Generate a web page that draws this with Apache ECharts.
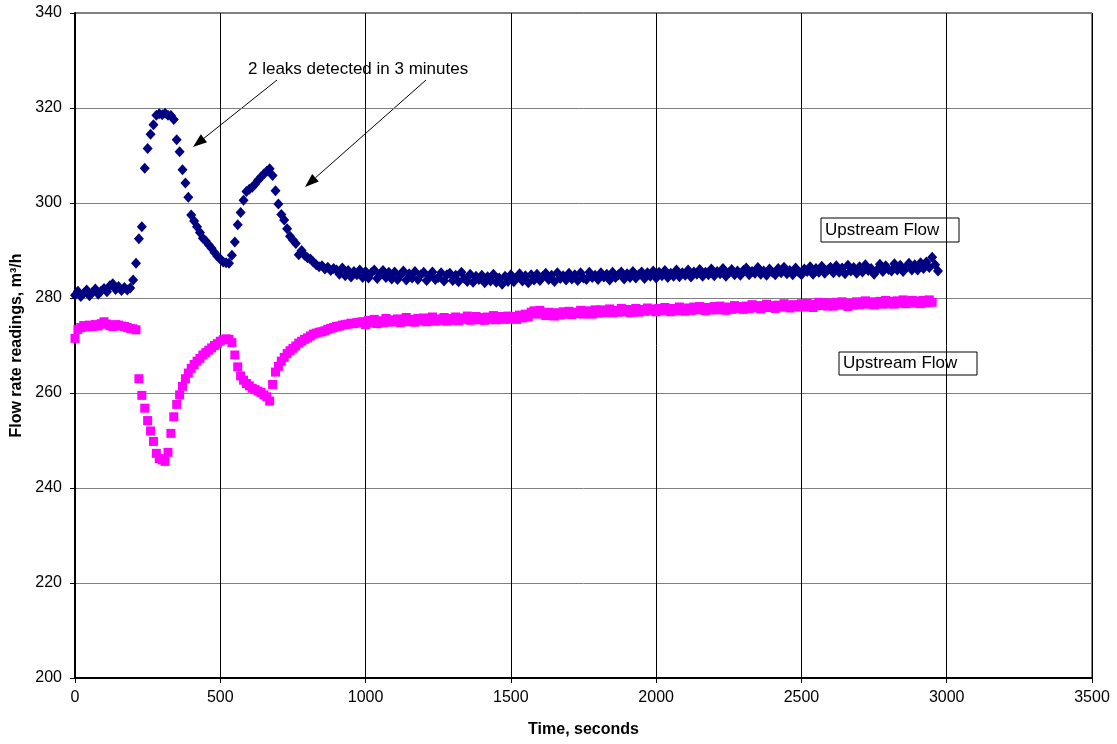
<!DOCTYPE html>
<html>
<head>
<meta charset="utf-8">
<script src="https://cdn.jsdelivr.net/npm/echarts@6/dist/echarts.min.js"></script>
<style>
  html, body { margin: 0; padding: 0; background: #fff; }
  #chart { width: 1117px; height: 744px; }
</style>
</head>
<body>
<div id="chart"></div>
<script>
// sampling step of the logger, seconds
var stepSec = 10;

// upstream flow (blue diamonds), one value every 10 s from t = 0
var blueFlow = [
  280.6, 281.4, 280.3, 281.0, 281.7, 280.5, 281.2, 281.9, 280.8, 281.5,
  282.0, 281.3, 282.6, 283.0, 281.8, 282.4, 281.6, 282.2, 281.7, 282.1,
  283.8, 287.3, 292.5, 295.0, 307.3, 311.5, 314.5, 316.5, 318.5, 318.8,
  318.6, 318.9, 318.5, 318.4, 317.6, 313.3, 310.8, 307.0, 304.2, 301.2,
  297.5, 296.2, 295.0, 293.8, 292.6, 292.0, 291.2, 290.5, 289.6, 288.8,
  288.2, 287.6, 287.4, 287.3, 289.0, 291.8, 295.4, 298.0, 300.6, 302.4,
  302.9, 303.3, 304.0, 304.8, 305.5, 306.1, 306.7, 307.2, 305.8, 302.6,
  299.8, 297.6, 296.4, 294.6, 293.0, 292.2, 291.5, 289.1, 290.0, 289.0,
  288.5, 288.2, 287.6, 287.0, 286.6, 286.8, 286.1, 286.5, 285.8, 286.2,
  285.9, 285.0, 286.3, 284.7, 285.8, 284.4, 285.6, 284.9, 285.9, 284.3,
  285.6, 284.2, 285.3, 285.9, 284.1, 285.0, 285.8, 284.3, 285.4, 284.0,
  285.5, 283.9, 284.8, 285.7, 283.8, 285.1, 284.2, 285.6, 283.9, 284.9,
  285.4, 283.7, 284.6, 285.5, 283.9, 284.3, 285.3, 283.6, 284.9, 285.2,
  283.7, 284.8, 283.4, 285.4, 284.1, 283.5, 285.0, 283.3, 284.6, 283.9,
  284.8, 283.2, 284.5, 283.6, 285.0, 283.3, 284.2, 282.9, 284.6, 283.5,
  284.9, 283.4, 284.3, 285.1, 283.6, 284.7, 283.2, 284.9, 283.8, 285.0,
  283.7, 284.6, 285.2, 283.9, 284.8, 283.5, 285.3, 284.1, 284.7, 283.8,
  285.2, 284.0, 284.9, 283.7, 285.3, 284.2, 283.9, 285.4, 284.3, 284.8,
  283.9, 285.3, 284.4, 285.0, 283.8, 285.4, 284.3, 284.9, 285.5, 284.0,
  285.1, 284.3, 285.6, 284.2, 284.9, 285.5, 284.1, 285.3, 284.6, 285.7,
  284.2, 285.4, 284.7, 285.8, 284.3, 285.2, 284.6, 285.9, 284.5, 285.3,
  284.8, 285.9, 284.4, 285.5, 285.0, 286.0, 284.6, 285.4, 284.9, 286.1,
  284.7, 285.6, 285.1, 286.2, 284.6, 285.3, 286.0, 284.9, 285.7, 284.8,
  285.8, 286.3, 284.9, 285.6, 285.2, 286.4, 285.0, 285.7, 284.8, 286.1,
  285.4, 284.9, 286.2, 285.3, 286.5, 285.1, 285.8, 284.9, 286.3, 285.5,
  284.9, 286.1, 285.6, 286.6, 285.0, 286.2, 285.4, 286.7, 285.2, 285.9,
  286.5, 285.3, 286.8, 285.4, 286.3, 285.1, 286.9, 285.7, 286.4, 285.2,
  286.6, 285.5, 287.0, 285.8, 286.2, 285.0, 285.9, 287.1, 285.6, 286.8,
  286.0, 285.7, 287.2, 285.9, 286.9, 285.6, 286.4, 287.3, 285.9, 287.0,
  285.9, 287.4, 286.2, 287.6, 286.4, 288.6, 287.0, 285.7
];

// second flow reading (magenta squares), one value every 10 s from t = 0
var pinkFlow = [
  271.5, 273.4, 273.8, 274.2, 273.9, 274.3, 274.0, 274.4, 274.1, 274.6,
  275.0, 274.5, 274.2, 274.0, 274.4, 274.3, 274.1, 274.0, 273.8, 273.6,
  273.5, 273.3, 263.0, 259.5, 256.8, 254.2, 252.0, 249.8, 247.3, 246.2,
  245.9, 245.6, 247.5, 251.5, 255.0, 257.6, 259.6, 261.4, 263.0, 264.2,
  265.2, 266.0, 266.7, 267.3, 268.0, 268.5, 269.0, 269.5, 270.0, 270.4,
  270.9, 271.2, 271.4, 271.3, 270.6, 268.0, 265.5, 263.6, 262.7, 262.0,
  261.5, 261.0, 260.7, 260.4, 260.1, 259.6, 259.2, 258.3, 261.8, 264.4,
  265.6, 266.7, 267.5, 268.3, 268.9, 269.4, 269.9, 270.5, 270.9, 271.3,
  271.6, 272.0, 272.4, 272.6, 272.8, 272.9, 273.1, 273.4, 273.6, 273.8,
  274.0, 274.1, 274.3, 274.4, 274.5, 274.7, 274.6, 274.8, 274.9, 275.0,
  274.4, 275.3, 274.7, 275.5, 274.6, 275.2, 274.8, 275.7, 274.9, 275.4,
  275.0, 275.6, 274.8, 275.3, 275.9, 275.0, 275.5, 274.9, 275.7, 275.2,
  275.8, 275.0, 275.4, 276.0, 275.1, 275.6, 275.3, 275.9, 275.1, 275.7,
  275.3, 276.0, 275.2, 275.8, 275.5, 276.2, 275.3, 275.7, 276.1, 275.4,
  275.9, 275.3, 276.0, 275.5, 276.3, 275.4, 275.8, 276.1, 275.5, 276.2,
  275.6, 276.1, 275.5, 276.4, 275.8, 276.6, 276.0, 277.0, 277.3, 276.6,
  277.4, 276.8, 276.3, 277.0, 276.5, 276.2, 276.9, 276.4, 277.1, 276.6,
  277.2, 276.5, 277.0, 276.7, 277.4, 276.6, 276.9, 277.3, 276.6, 277.5,
  276.8, 277.5, 276.9, 277.3, 277.7, 276.9, 277.4, 277.0, 277.8, 277.1,
  277.6, 276.9, 277.4, 277.8, 277.0, 277.6, 277.2, 277.9, 277.3, 277.7,
  277.1, 277.8, 277.3, 278.0, 277.4, 277.1, 277.8, 277.3, 278.1, 277.5,
  277.2, 277.9, 277.4, 278.1, 277.5, 278.2, 277.6, 277.3, 278.0, 277.5,
  278.2, 277.5, 278.3, 277.7, 277.4, 278.1, 277.6, 278.4, 277.8, 278.2,
  277.6, 278.3, 277.8, 278.6, 277.9, 278.4, 277.7, 278.3, 278.7, 278.0,
  278.4, 277.8, 278.5, 278.1, 278.8, 278.2, 277.9, 278.6, 278.1, 278.5,
  278.8, 278.1, 278.9, 278.3, 278.0, 278.7, 279.1, 278.4, 279.0, 278.3,
  278.9, 278.3, 279.1, 278.5, 279.2, 278.6, 278.2, 278.9, 278.5, 279.2,
  278.6, 279.1, 279.4, 278.7, 279.2, 278.5, 279.0, 279.3, 278.7, 279.5,
  278.8, 279.3, 278.7, 279.4, 278.9, 279.6, 278.8, 279.2, 279.5, 278.9,
  279.4, 278.8, 279.5, 279.0, 279.6, 279.1
];

var xTicks = [0, 500, 1000, 1500, 2000, 2500, 3000, 3500];
var yTicks = [200, 220, 240, 260, 280, 300, 320, 340];

var seriesNames = ['Upstream Flow', 'Upstream Flow'];
var noteText = '2 leaks detected in 3 minutes';

// pair each reading with its time stamp
function toPoints(vals) {
    var res = [];
    for (var i = 0; i < vals.length; i++) {
        res.push([i * stepSec, vals[i]]);
    }
    return res;
}

// arrow = line + filled head
function arrow(x1, y1, x2, y2) {
    var a = Math.atan2(y2 - y1, x2 - x1);
    var len = 14, half = 5;
    var bx = x2 - len * Math.cos(a), by = y2 - len * Math.sin(a);
    return [
        {
            type: 'line',
            shape: {x1: x1, y1: y1, x2: bx, y2: by},
            style: {stroke: '#000', lineWidth: 1}
        },
        {
            type: 'polygon',
            shape: {
                points: [[x2, y2],
                    [bx - half * Math.sin(a), by + half * Math.cos(a)],
                    [bx + half * Math.sin(a), by - half * Math.cos(a)]]
            },
            style: {fill: '#000'}
        }
    ];
}

function labelBox(x, y, w, h, text) {
    return [
        {
            type: 'rect',
            shape: {x: x, y: y, width: w, height: h},
            style: {fill: '#fff', stroke: '#000', lineWidth: 1}
        },
        {
            type: 'text',
            x: x + 4, y: y + h / 2,
            style: {
                text: text, fill: '#000',
                font: '17px "Liberation Sans", Arial, sans-serif',
                verticalAlign: 'middle'
            }
        }
    ];
}

var chart = echarts.init(document.getElementById('chart'));

var graphics = []
    .concat([{
        type: 'rect',
        shape: {x: 236, y: 57, width: 282, height: 31},
        style: {fill: '#fff'}
    }, {
        type: 'text',
        x: 248, y: 69,
        style: {
            text: noteText, fill: '#000',
            font: '17px "Liberation Sans", Arial, sans-serif',
            verticalAlign: 'middle'
        }
    }])
    .concat(arrow(277, 80, 193, 147))
    .concat(arrow(426, 80, 305, 187))
    .concat(labelBox(821, 218, 138, 24, seriesNames[0]))
    .concat(labelBox(839, 352, 138, 23, seriesNames[1]));

var option = {
    animation: false,
    backgroundColor: '#fff',
    textStyle: {fontFamily: '"Liberation Sans", Arial, sans-serif'},
    grid: {
        left: 75, right: 25, top: 13, bottom: 66,
        show: true, borderColor: '#000', borderWidth: 1
    },
    xAxis: {
        type: 'value',
        min: xTicks[0], max: xTicks[xTicks.length - 1], interval: 500,
        name: 'Time, seconds',
        nameLocation: 'middle', nameGap: 44,
        nameTextStyle: {fontSize: 16, fontWeight: 'bold', color: '#000'},
        axisLine: {show: true, onZero: false, lineStyle: {color: '#000', width: 2}},
        axisTick: {show: true, length: 5, lineStyle: {color: '#000'}},
        axisLabel: {
            fontSize: 16, color: '#000', margin: 12,
            formatter: function (v) { return String(v); }
        },
        splitLine: {show: true, lineStyle: {color: '#000', width: 1}}
    },
    yAxis: {
        type: 'value',
        min: yTicks[0], max: yTicks[yTicks.length - 1], interval: 20,
        name: 'Flow rate readings, m³/h',
        nameLocation: 'middle', nameGap: 50,
        nameTextStyle: {fontSize: 16, fontWeight: 'bold', color: '#000'},
        axisLine: {show: true, onZero: false, lineStyle: {color: '#000', width: 2}},
        axisTick: {show: true, length: 5, lineStyle: {color: '#000'}},
        axisLabel: {fontSize: 16, color: '#000', margin: 13},
        splitLine: {show: true, lineStyle: {color: '#808080', width: 1}}
    },
    series: [
        {
            name: seriesNames[0],
            type: 'scatter',
            symbol: 'diamond',
            symbolSize: [10, 11],
            itemStyle: {color: '#000080', opacity: 1},
            data: toPoints(blueFlow)
        },
        {
            name: seriesNames[1],
            type: 'scatter',
            symbol: 'rect',
            symbolSize: 9,
            itemStyle: {color: '#ff00ff', opacity: 1},
            data: toPoints(pinkFlow)
        }
    ],
    graphic: graphics
};

chart.setOption(option);
</script>
</body>
</html>
